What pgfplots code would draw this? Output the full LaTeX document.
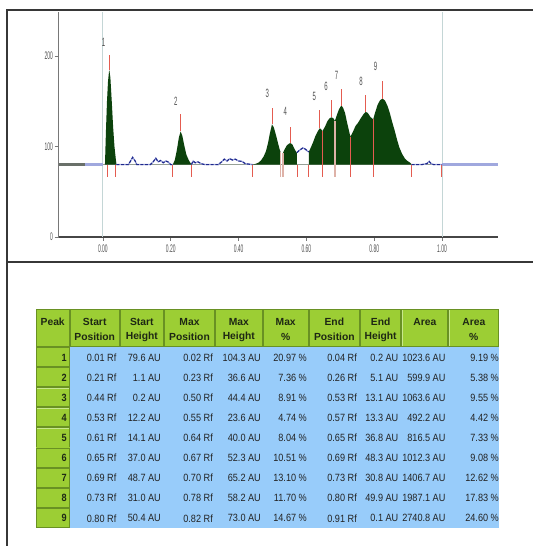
\documentclass[border=0pt]{standalone}
\usepackage{pgfplots}
\pgfplotsset{compat=1.18}
\usepackage{fontspec}
\setmainfont{Liberation Sans}
\definecolor{pkgreen}{RGB}{12,66,12}
\definecolor{rmk}{RGB}{228,92,80}
\definecolor{rpale}{RGB}{222,178,168}
\definecolor{noiseblue}{RGB}{30,40,140}
\definecolor{lav}{RGB}{160,168,222}
\definecolor{vline}{RGB}{196,214,214}
\definecolor{basegrey}{RGB}{150,160,150}
\definecolor{axisdark}{RGB}{70,70,70}
\definecolor{axisgrey}{RGB}{120,120,120}
\definecolor{framec}{RGB}{55,55,55}
\definecolor{hdrgreen}{RGB}{156,206,52}
\definecolor{hdrdark}{RGB}{105,145,35}
\definecolor{hdrlight}{RGB}{200,232,140}
\definecolor{cellblue}{RGB}{152,204,250}
\definecolor{txt}{RGB}{35,35,35}
\definecolor{hdrtxt}{RGB}{30,40,20}
\definecolor{ticktxt}{RGB}{80,80,80}
\begin{document}
\begin{tikzpicture}[x=1pt,y=1pt]
\fill[white] (0,0) rectangle (533,546);
% frame
\draw[framec, line width=2pt] (7,0) -- (7,535.5) -- (533,535.5);
\draw[framec, line width=2.2pt] (7,284) -- (533,284);

\begin{axis}[
  at={(58.5pt,309pt)}, anchor=south west,
  scale only axis, width=439.5pt, height=225pt,
  xmin=-0.131, xmax=1.165, ymin=0, ymax=248.6,
  axis x line=bottom, axis y line=left,
  x axis line style={-, line width=2.2pt, draw=axisdark},
  y axis line style={-, line width=1pt, draw=axisgrey},
  xtick={0,0.2,0.4,0.6,0.8,1.0},
  xticklabels={0.00,0.20,0.40,0.60,0.80,1.00},
  ytick={0,100,200},
  yticklabels={0,100,200},
  tick align=outside, major tick length=4pt,
  tick style={draw=axisgrey, line width=0.8pt},
  xticklabel style={font=\fontsize{11}{11}\selectfont, text=ticktxt, xscale=0.45},
  yticklabel style={font=\fontsize{11}{11}\selectfont, text=ticktxt, xscale=0.45},
  clip=false,
  unbounded coords=jump,
]
% reference lines at 0 and 1
\addplot[vline, line width=1pt] coordinates {(0,0)(0,248.6)};
\addplot[vline, line width=1pt] coordinates {(1,0)(1,248.6)};
% baseline
\addplot[basegrey!70!black, line width=2.5pt] coordinates {(-0.131,80)(-0.053,80)};
\addplot[lav, line width=2.5pt] coordinates {(-0.053,80)(0,80)};
\addplot[basegrey, line width=0.8pt] coordinates {(0,80)(1,80)};
\addplot[lav, line width=3.2pt] coordinates {(1,80)(1.165,80)};
% peak areas
\addplot[fill=pkgreen, draw=none] coordinates {
 (0.006,80)(0.009,118)(0.012,150)(0.015,172)(0.018,183)(0.019,184.3)(0.022,176)(0.026,150)(0.030,122)(0.034,100)(0.038,86)(0.040,80)};
\addplot[fill=pkgreen, draw=none] coordinates {
 (0.206,80)(0.212,85)(0.218,96)(0.224,110)(0.229,116.6)(0.234,112)(0.240,101)(0.246,91)(0.253,85)(0.261,80)};
\addplot[fill=pkgreen, draw=none] coordinates {
 (0.441,80)(0.450,80.8)(0.458,82)(0.466,84.5)(0.474,89)(0.481,95)(0.487,104)(0.492,114)(0.4985,124.4)(0.504,121)(0.510,113)(0.516,104)(0.521,97)(0.524,93.5)(0.524,80)};
\addplot[fill=pkgreen, draw=none] coordinates {
 (0.531,80)(0.531,93)(0.536,97)(0.542,101)(0.549,103.3)(0.554,103.6)(0.559,102)(0.564,98)(0.569,94.5)(0.572,93.3)(0.572,80)};
\addplot[fill=pkgreen, draw=none] coordinates {
 (0.607,80)(0.607,94.1)(0.612,98)(0.619,104)(0.626,111)(0.634,117)(0.639,120)(0.643,119.5)(0.647,116.8)(0.655,122)(0.662,128)(0.668,131)(0.674,132.3)(0.680,131)(0.684,128.3)(0.690,135)(0.696,141)(0.7026,145.2)(0.708,143)(0.714,137)(0.7196,127)(0.7246,119)(0.7296,110.8)(0.737,116)(0.745,122.8)(0.752,126)(0.760,131)(0.768,135.5)(0.775,138.2)(0.781,137)(0.789,132.5)(0.797,130)(0.803,138)(0.810,146)(0.817,151)(0.825,153)(0.832,150.5)(0.839,145)(0.846,137)(0.853,127)(0.860,118)(0.867,108)(0.874,99)(0.882,92)(0.890,87)(0.898,84)(0.906,82)(0.910,80.5)(0.910,80)};
% noise line
\addplot[lav, line width=1.3pt] coordinates {
 (0.040,80)(0.075,80)(0.080,83)(0.0876,88)(0.095,84)(0.100,80)(0.140,80)(0.148,83)(0.156,87)(0.163,83)(0.170,84.5)(0.178,82)(0.185,84)(0.192,83)(0.200,80)(0.206,80)
 (0.23,nan)
 (0.261,80)(0.266,84)(0.272,82)(0.28,83)(0.29,81)(0.30,80)(0.34,80)(0.35,83)(0.358,86)(0.366,84)(0.374,86.5)(0.382,85)(0.39,86)(0.40,84)(0.41,83.5)(0.42,81)(0.441,80)
 (0.5,nan)
 (0.572,93.3)(0.580,96)(0.590,98.5)(0.597,97)(0.603,95)(0.607,94.1)
 (0.7,nan)
 (0.910,80)(0.94,80)(0.955,81)(0.962,83.5)(0.968,81)(0.975,80)(1.0,80)};
\addplot[noiseblue, line width=1.1pt, dash pattern=on 3pt off 1.6pt] coordinates {
 (0.040,80)(0.075,80)(0.080,83)(0.0876,88)(0.095,84)(0.100,80)(0.140,80)(0.148,83)(0.156,87)(0.163,83)(0.170,84.5)(0.178,82)(0.185,84)(0.192,83)(0.200,80)(0.206,80)
 (0.23,nan)
 (0.261,80)(0.266,84)(0.272,82)(0.28,83)(0.29,81)(0.30,80)(0.34,80)(0.35,83)(0.358,86)(0.366,84)(0.374,86.5)(0.382,85)(0.39,86)(0.40,84)(0.41,83.5)(0.42,81)(0.441,80)
 (0.5,nan)
 (0.572,93.3)(0.580,96)(0.590,98.5)(0.597,97)(0.603,95)(0.607,94.1)
 (0.7,nan)
 (0.910,80)(0.94,80)(0.955,81)(0.962,83.5)(0.968,81)(0.975,80)(1.0,80)};
% peak boundary markers (pale, through fill)
\addplot[rpale, line width=1.5pt] coordinates {
 (0.524,93.5)(0.524,66) (0.527,nan) (0.531,93)(0.531,66) (0.6,nan) (0.684,128.3)(0.684,66)};
% peak boundary markers (red)
\addplot[rmk, line width=0.8pt] coordinates {
 (0.012,80)(0.012,66) (0.02,nan)
 (0.037,80)(0.037,66) (0.1,nan)
 (0.206,80)(0.206,66) (0.23,nan)
 (0.261,80)(0.261,66) (0.3,nan)
 (0.441,80)(0.441,66) (0.5,nan)
 (0.572,80)(0.572,66) (0.59,nan)
 (0.607,80)(0.607,66) (0.62,nan)
 (0.647,116.8)(0.647,66) (0.66,nan)
 (0.7296,110.8)(0.7296,66) (0.75,nan)
 (0.797,130)(0.797,66) (0.85,nan)
 (0.910,80)(0.910,66) (0.95,nan)
 (0.9985,80)(0.9985,66)};
% peak maximum markers
\addplot[rmk, line width=0.8pt] coordinates {
 (0.019,184.3)(0.019,201) (0.1,nan)
 (0.229,116.6)(0.229,136) (0.3,nan)
 (0.4985,124.4)(0.4985,142) (0.52,nan)
 (0.554,103.6)(0.554,121) (0.6,nan)
 (0.639,120)(0.639,140) (0.66,nan)
 (0.674,132.3)(0.674,151) (0.69,nan)
 (0.7026,145.2)(0.7026,163) (0.74,nan)
 (0.775,138.2)(0.775,157) (0.8,nan)
 (0.825,153)(0.825,172)};
% peak labels
\foreach \px/\py/\lab in {0.002/215/1, 0.215/149.5/2, 0.485/159/3, 0.538/138.5/4, 0.623/155/5, 0.658/166/6, 0.689/179/7, 0.761/171.6/8, 0.804/188/9}{
  \edef\temp{\noexpand\node[font=\noexpand\fontsize{12}{12}\noexpand\selectfont, text=ticktxt, xscale=0.5] at (axis cs:\px,\py) {\lab};}
  \temp
}
\end{axis}

% ---------------- table ----------------
\fill[cellblue] (69.7,18) rectangle (499.3,199);
\foreach \a/\b in {35.7/69.7, 69.7/119.7, 119.7/164, 164/215, 215/262.6, 262.6/308.8, 308.8/359.9, 359.9/401.4, 401.4/448.3, 448.3/499.3}{
  \fill[hdrgreen] (\a,199) rectangle (\b,237);
  \draw[hdrlight, line width=0.8pt] (\a+0.8,199.8) -- (\a+0.8,236.2) -- (\b-0.8,236.2);
  \draw[hdrdark, line width=0.9pt] (\a+0.5,199.5) rectangle (\b-0.5,236.5);
}
\tikzset{hdr/.style={font=\bfseries\fontsize{10.3}{10.3}\selectfont, text=hdrtxt, inner sep=0pt}}
\node[hdr] at (52.7,224) {Peak};
\node[hdr] at (94.7,224) {Start};   \node[hdr] at (94.7,209.5) {Position};
\node[hdr] at (141.85,224) {Start}; \node[hdr] at (141.85,209.5) {Height};
\node[hdr] at (189.5,224) {Max};    \node[hdr] at (189.5,209.5) {Position};
\node[hdr] at (238.8,224) {Max};    \node[hdr] at (238.8,209.5) {Height};
\node[hdr] at (285.7,224) {Max};    \node[hdr] at (285.7,209.5) {\%};
\node[hdr] at (334.35,224) {End};   \node[hdr] at (334.35,209.5) {Position};
\node[hdr] at (380.65,224) {End};   \node[hdr] at (380.65,209.5) {Height};
\node[hdr] at (424.85,224) {Area};
\node[hdr] at (473.8,224) {Area};   \node[hdr] at (473.8,209.5) {\%};
\tikzset{dat/.style={font=\fontsize{10.5}{10.5}\selectfont, text=txt, inner sep=0pt, anchor=east, xscale=0.87}}
\foreach \i/\va/\vb/\vc/\vd/\ve/\vf/\vg/\vh/\vk in {
 1/0.01 Rf/79.6 AU/0.02 Rf/104.3 AU/20.97 \%/0.04 Rf/0.2 AU/1023.6 AU/9.19 \%,
 2/0.21 Rf/1.1 AU/0.23 Rf/36.6 AU/7.36 \%/0.26 Rf/5.1 AU/599.9 AU/5.38 \%,
 3/0.44 Rf/0.2 AU/0.50 Rf/44.4 AU/8.91 \%/0.53 Rf/13.1 AU/1063.6 AU/9.55 \%,
 4/0.53 Rf/12.2 AU/0.55 Rf/23.6 AU/4.74 \%/0.57 Rf/13.3 AU/492.2 AU/4.42 \%,
 5/0.61 Rf/14.1 AU/0.64 Rf/40.0 AU/8.04 \%/0.65 Rf/36.8 AU/816.5 AU/7.33 \%,
 6/0.65 Rf/37.0 AU/0.67 Rf/52.3 AU/10.51 \%/0.69 Rf/48.3 AU/1012.3 AU/9.08 \%,
 7/0.69 Rf/48.7 AU/0.70 Rf/65.2 AU/13.10 \%/0.73 Rf/30.8 AU/1406.7 AU/12.62 \%,
 8/0.73 Rf/31.0 AU/0.78 Rf/58.2 AU/11.70 \%/0.80 Rf/49.9 AU/1987.1 AU/17.83 \%,
 9/0.80 Rf/50.4 AU/0.82 Rf/73.0 AU/14.67 \%/0.91 Rf/0.1 AU/2740.8 AU/24.60 \%}{
  \pgfmathsetmacro\yt{199-20.1*(\i-1)}
  \pgfmathsetmacro\yb{199-20.1*\i}
  \pgfmathsetmacro\yc{199-20.1*(\i-0.5)-0.5}
  \fill[hdrgreen] (35.7,\yb) rectangle (69.7,\yt);
  \draw[hdrlight, line width=0.8pt] (36.5,\yb+0.8) -- (36.5,\yt-0.8) -- (68.9,\yt-0.8);
  \draw[hdrdark, line width=0.9pt] (36.2,\yb+0.5) rectangle (69.2,\yt-0.5);
  \node[dat, font=\bfseries\fontsize{10.5}{10.5}\selectfont, text=hdrtxt] at (67,\yc) {\i};
  \node[dat] at (116.5,\yc) {\va};
  \node[dat] at (161,\yc) {\vb};
  \node[dat] at (213,\yc) {\vc};
  \node[dat] at (261,\yc) {\vd};
  \node[dat] at (307,\yc) {\ve};
  \node[dat] at (357,\yc) {\vf};
  \node[dat] at (398.5,\yc) {\vg};
  \node[dat] at (445.6,\yc) {\vh};
  \node[dat] at (499,\yc) {\vk};
}
\pgfresetboundingbox
\path (0,0) rectangle (533,546);
\end{tikzpicture}
\end{document}
